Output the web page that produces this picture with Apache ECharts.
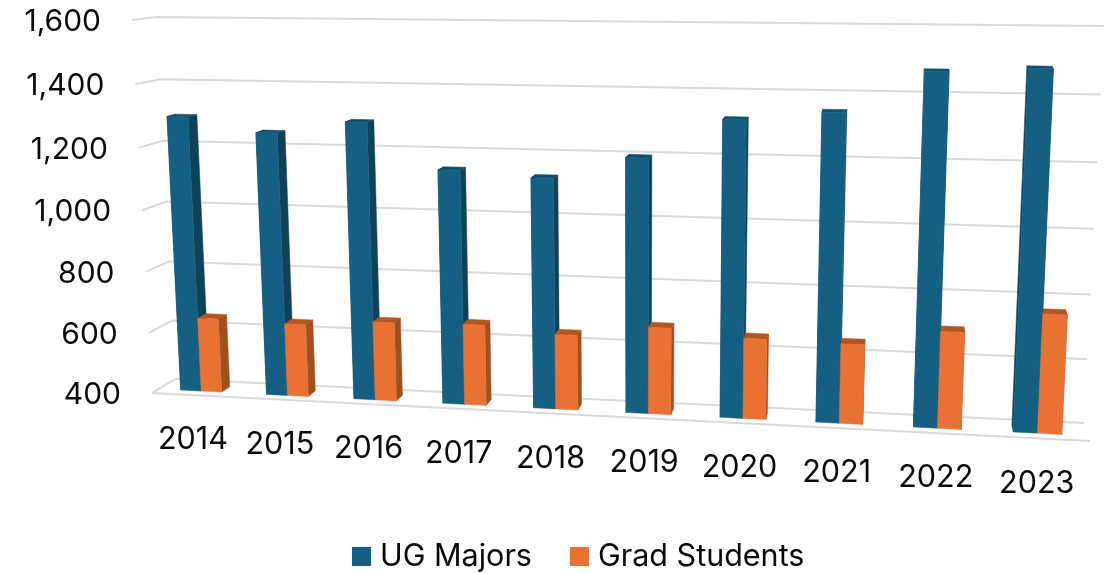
<!DOCTYPE html>
<html><head><meta charset="utf-8">
<style>html,body{margin:0;padding:0;background:#fff}#c{width:1118px;height:574px}</style>
<script src="https://cdn.jsdelivr.net/npm/echarts@6/dist/echarts.min.js"></script></head>
<body><div id="c"></div>
<script>
const categories = ['2014','2015','2016','2017','2018','2019','2020','2021','2022','2023'];
const ugMajors = [1295,1250,1290,1147,1130,1200,1322,1350,1475,1488];
const gradStudents = [643,637,655,660,640,675,653,649,700,765];
const yTicks = [400,600,800,1000,1200,1400,1600];

const FONT = 'Inter';
const COL = {
  blue:{front:'#156082',side:'#0E4259',top:'#114F6B'},
  orange:{front:'#E97132',side:'#A04F1F',top:'#B5561F'}
};
// perspective frame of the chart box
const backQuad  = [[175,379],[1084,423],[1104,26],[157,17]];
const frontQuad = [[152,393],[1090,441],[1110,32],[132,20]];
function makeH(q){
  const [x0,y0]=q[0],[x1,y1]=q[1],[x2,y2]=q[2],[x3,y3]=q[3];
  const dx1=x1-x2,dx2=x3-x2,sx=x0-x1+x2-x3,dy1=y1-y2,dy2=y3-y2,sy=y0-y1+y2-y3;
  const den=dx1*dy2-dx2*dy1, g=(sx*dy2-dx2*sy)/den, h=(dx1*sy-sx*dy1)/den;
  const a=x1-x0+g*x1,b=x3-x0+h*x3,d=y1-y0+g*y1,e=y3-y0+h*y3;
  return (u,v)=>{const w=g*u+h*v+1;return [(a*u+b*v+x0)/w,(d*u+e*v+y0)/w];};
}
const HB=makeH(backQuad),HF=makeH(frontQuad);
function proj(u,v,dep){const b=HB(u,v),f=HF(u,v);return [b[0]+(f[0]-b[0])*dep,b[1]+(f[1]-b[1])*dep];}
const BAR_FRONT=0.71,BAR_BACK=0.33,BAR_W=0.24;

function frac(params,pt){const c=params.coordSys;return [(pt[0]-c.x)/c.width,(c.y+c.height-pt[1])/c.height];}
function poly(points,fill,z2){return {type:'polygon',z2,shape:{points},style:{fill,stroke:fill,lineWidth:0.5},silent:true};}

function barItem(col,side,zBack,zFront){
  return function(params,api){
    const i=api.value(0),val=api.value(1);
    const top=frac(params,api.coord([i,val])),base=frac(params,api.coord([i,yTicks[0]]));
    const bw=api.size([1,0])[0]/params.coordSys.width*BAR_W;
    const u0=side<0?base[0]-bw:base[0],u1=u0+bw,v0=base[1],v1=top[1];
    const P=(u,v,d)=>proj(u,v,d),F=BAR_FRONT,B=BAR_BACK;
    const kids=[
      poly([P(u1,v0,F),P(u1,v0,B),P(u1,v1,B),P(u1,v1,F)],col.side,zBack),
      poly([P(u0,v1,F),P(u1,v1,F),P(u1,v1,B),P(u0,v1,B)],col.top,zBack),
      poly([P(u0,v0,F),P(u1,v0,F),P(u1,v1,F),P(u0,v1,F)],col.front,zFront)
    ];
    if(side<0) kids.unshift(poly([P(u0,v0,F),P(u0,v0,B),P(u0,v1,B),P(u0,v1,F)],col.side,zBack));
    return {type:'group',children:kids};
  };
}
function frameItem(params,api){
  const val=api.value(0);
  const v=frac(params,api.coord([0,val]))[1];
  const a=proj(0,v,1),b=proj(0,v,0),c=proj(1,v,0);
  const kids=[{type:'polyline',z2:0,silent:true,shape:{points:[a,b,c]},style:{fill:null,stroke:'#D9D9D9',lineWidth:2}},
    {type:'text',z2:6,silent:true,style:{text:val.toLocaleString('en-US'),x:a[0]-31,y:a[1]+2,align:'right',verticalAlign:'middle',fill:'#0a0a0a',font:'400 30px '+FONT}}];
  if(val===yTicks[0]) kids.push({type:'line',z2:0,silent:true,shape:{x1:a[0],y1:a[1],x2:proj(1,v,1)[0],y2:proj(1,v,1)[1]},style:{stroke:'#D9D9D9',lineWidth:2}});
  return {type:'group',children:kids};
}
function catItem(params,api){
  const i=api.value(0);
  const f=frac(params,api.coord([i,yTicks[0]]));
  const p=proj(f[0],f[1],1);
  return {type:'text',z2:6,silent:true,style:{text:categories[i],x:p[0]-2,y:p[1]+45,align:'center',verticalAlign:'middle',fill:'#0a0a0a',font:'400 30.5px '+FONT}};
}
const chart=echarts.init(document.getElementById('c'));
chart.setOption({
  animation:false,
  backgroundColor:'#fff',
  grid:{left:150,right:30,top:20,bottom:150},
  xAxis:{type:'category',data:categories,show:false},
  yAxis:{type:'value',min:400,max:1600,interval:200,show:false},
  legend:{data:['UG Majors','Grad Students'],left:347,top:536,icon:'rect',itemWidth:19,itemHeight:19,itemGap:38,selectedMode:false,
    textStyle:{fontFamily:FONT,fontSize:30.5,color:'#0a0a0a',padding:[0,0,0,4]}},
  series:[
    {name:'frame',type:'custom',coordinateSystem:'cartesian2d',data:yTicks.map(t=>[t]),encode:{y:0},renderItem:frameItem,silent:true,z:2},
    {name:'cats',type:'custom',coordinateSystem:'cartesian2d',data:categories.map((c,i)=>[i]),encode:{x:0},renderItem:catItem,silent:true,z:2},
    {name:'UG Majors',type:'custom',coordinateSystem:'cartesian2d',itemStyle:{color:COL.blue.front},data:ugMajors.map((v,i)=>[i,v]),encode:{x:0,y:1},renderItem:barItem(COL.blue,-1,1,3),z:2},
    {name:'Grad Students',type:'custom',coordinateSystem:'cartesian2d',itemStyle:{color:COL.orange.front},data:gradStudents.map((v,i)=>[i,v]),encode:{x:0,y:1},renderItem:barItem(COL.orange,1,2,4),z:2}
  ]
});
</script></body></html>
